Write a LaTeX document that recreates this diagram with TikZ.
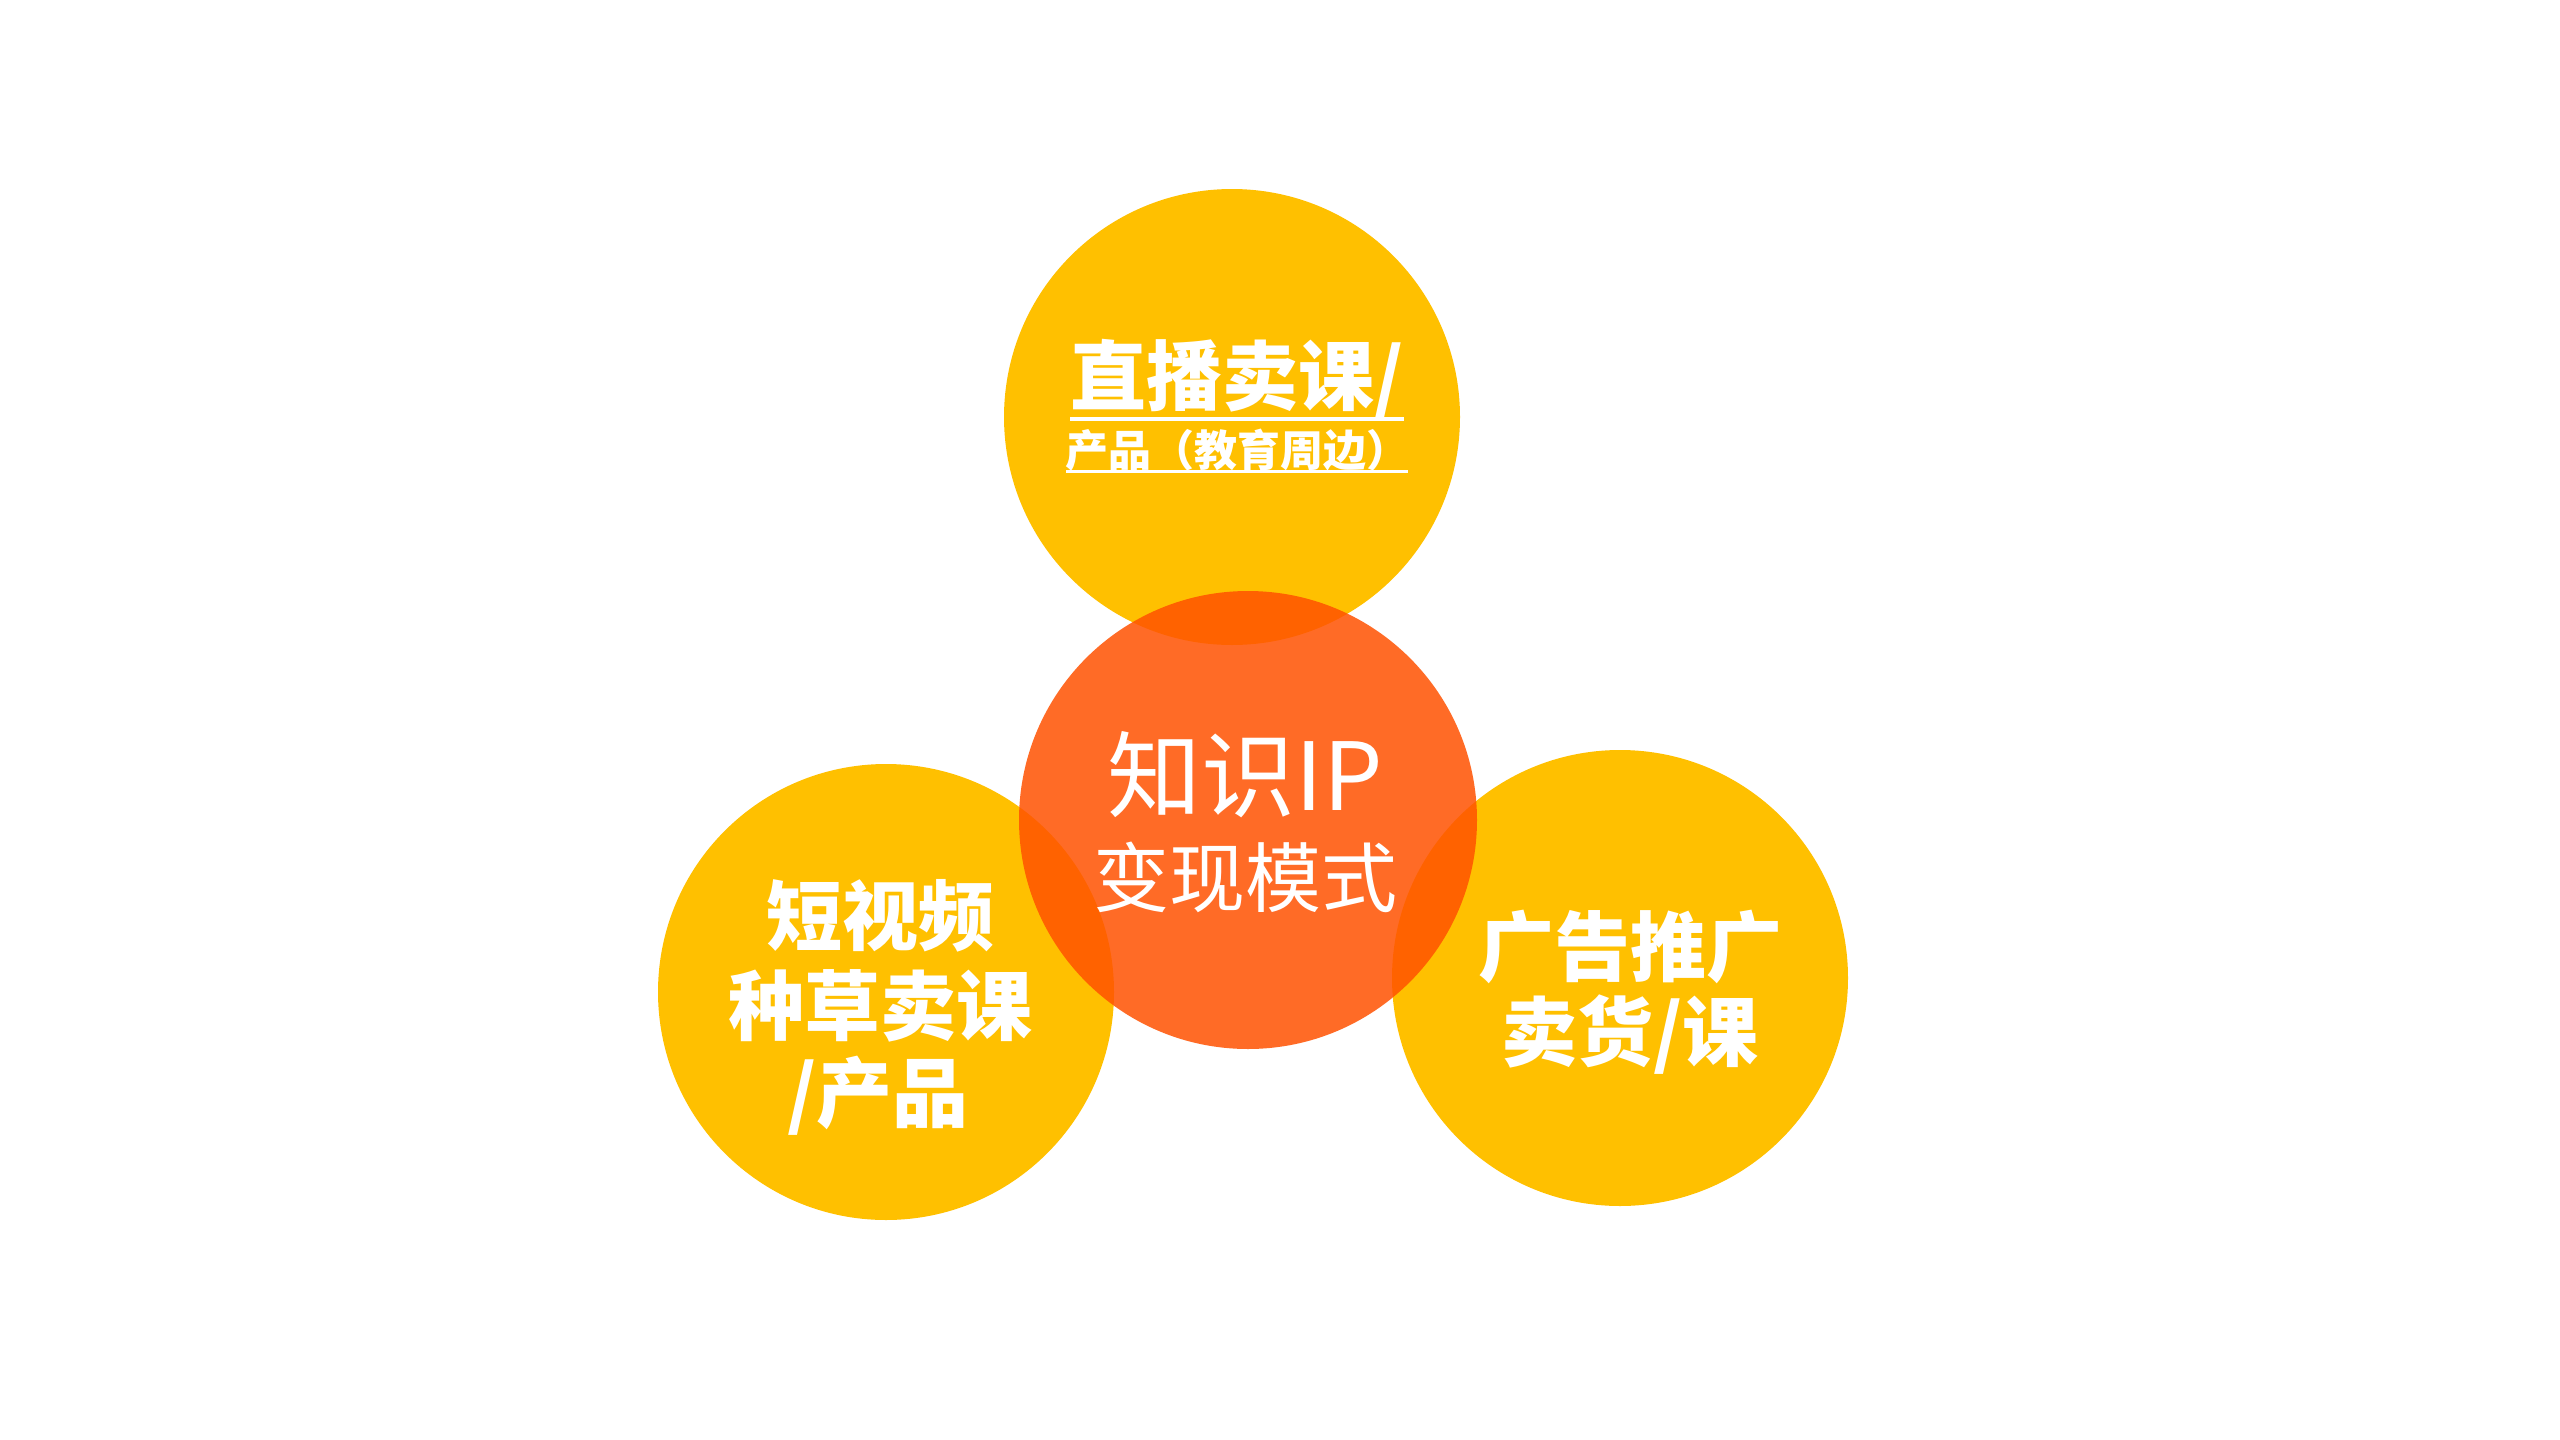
\documentclass[tikz,border=0pt]{standalone}
\usepackage{fontspec}
\newfontfamily\cjk{Noto Sans CJK SC}
\definecolor{ylw}{RGB}{255,192,0}
\definecolor{org}{RGB}{255,82,0}
\tikzset{
  bubble/.style={circle, minimum size=456pt, inner sep=0pt, fill=ylw, draw=none},
  core/.style={circle, minimum size=458pt, inner sep=0pt, fill=org, fill opacity=0.85, draw=none},
  lbl/.style={text=white, inner sep=0pt, anchor=center, font=\cjk\bfseries\fontsize{76}{90}\selectfont},
  corelbl/.style={text=white, inner sep=0pt, anchor=center, font=\cjk\fontsize{76}{90}\selectfont},
  uline/.style={draw=white}
}
\begin{document}
\begin{tikzpicture}[x=1pt,y=-1pt]
\useasboundingbox (0,0) rectangle (2560,1440);
\fill[white] (0,0) rectangle (2560,1440);
% circles
\node[bubble] (top) at (1232,417) {};
\node[bubble] (left) at (886,992) {};
\node[bubble] (right) at (1620,978) {};
\node[core] (mid) at (1248,820) {};
% top texts
\node[lbl] (t1) at (1237,379) {直播卖课/};
\node[lbl, font=\cjk\bfseries\fontsize{43}{50}\selectfont] (t2) at (1237,450) {产品（教育周边）};
\draw[uline, line width=4pt] (1070,419) -- (1404,419);
\draw[uline, line width=3pt] (1066,471) -- (1408,471);
% centre
\node[corelbl, font=\cjk\fontsize{94}{100}\selectfont] (c1) at (1245,775) {知识IP};
\node[corelbl] (c2) at (1245,877) {变现模式};
% left
\node[lbl] (l1) at (880,916) {短视频};
\node[lbl] (l2) at (880,1006) {种草卖课};
\node[lbl] (l3) at (878,1096) {/产品};
% right
\node[lbl] (r1) at (1630,947) {广告推广};
\node[lbl] (r2) at (1630,1035) {卖货/课};
\end{tikzpicture}
\end{document}
